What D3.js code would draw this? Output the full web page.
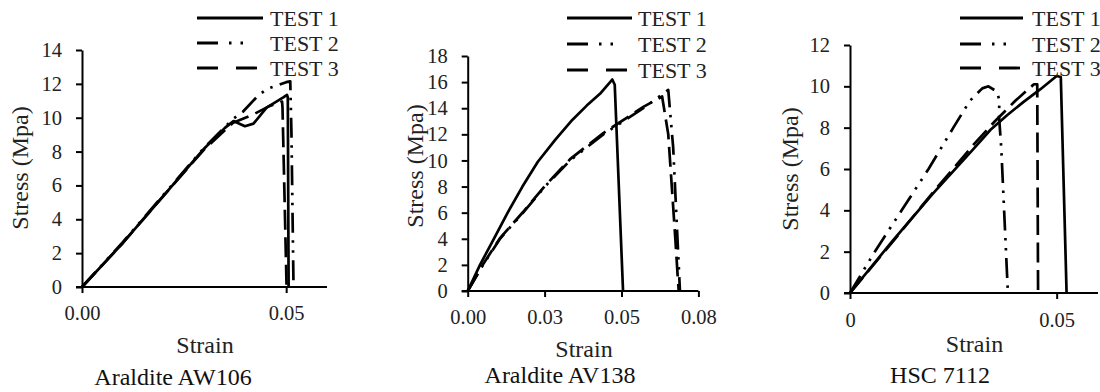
<!DOCTYPE html>
<html>
<head>
<meta charset="utf-8">
<script src="https://cdn.jsdelivr.net/npm/d3@7"></script>
</head>
<body style="margin:0; background:#fff">
<svg id="chart" width="1100" height="392"></svg>
<script>
// ---- data: [strain, stress MPa] ----
let seriesNames = ["TEST 1", "TEST 2", "TEST 3"];

let aw106Test1 = [[0, 0], [0.01, 2.6], [0.02, 5.4], [0.03, 8.2], [0.035, 9.4], [0.0371, 9.8], [0.0399, 9.5],
    [0.042, 9.65], [0.0452, 10.6], [0.0493, 11.2], [0.0502, 11.35], [0.0504, 11.2], [0.0506, 0]];
let aw106Test2 = [[0, 0], [0.01, 2.65], [0.02, 5.45], [0.03, 8.25], [0.0371, 9.95], [0.0394, 10.35], [0.0431, 11.3],
    [0.0453, 11.7], [0.05, 12.1], [0.051, 12.15], [0.0513, 9], [0.0518, 0]];
let aw106Test3 = [[0, 0], [0.01, 2.6], [0.02, 5.4], [0.03, 8.15], [0.037, 9.7], [0.042, 10.2], [0.046, 10.7],
    [0.049, 10.95], [0.0491, 10.6], [0.0501, 0]];

let av138Test1 = [[0, 0], [0.004, 2], [0.0085, 4], [0.013, 6], [0.0178, 8], [0.0228, 9.9], [0.0285, 11.6],
    [0.034, 13.1], [0.0387, 14.2], [0.043, 15.1], [0.0463, 16], [0.047, 16.2], [0.0478, 15.8], [0.0505, 0]];
let av138Test2 = [[0, 0], [0.005, 2], [0.0105, 4], [0.018, 6], [0.0251, 8], [0.0333, 10], [0.0441, 12],
    [0.0571, 14], [0.0652, 15.4], [0.0668, 11], [0.0682, 4], [0.0688, 1], [0.069, 0]];
let av138Test3 = [[0, 0], [0.005, 2.05], [0.0105, 4.05], [0.018, 6.05], [0.0251, 8.05], [0.0333, 10.1], [0.0441, 12.1],
    [0.0571, 14.1], [0.0632, 14.9], [0.0652, 12], [0.0675, 4], [0.0683, 1], [0.0686, 0]];

let hscTest1 = [[0, 0], [0.01, 2.45], [0.02, 4.8], [0.03, 7.0], [0.034, 7.9], [0.038, 8.6], [0.042, 9.25],
    [0.046, 9.85], [0.05, 10.5], [0.051, 10.45], [0.0524, 0]];
let hscTest2 = [[0, 0], [0.006, 2], [0.0125, 4], [0.019, 6], [0.025, 8], [0.029, 9.3], [0.032, 9.9], [0.0335, 10.0],
    [0.0355, 9.75], [0.0362, 9.3], [0.036, 8.7], [0.0366, 7], [0.0382, 0]];
let hscTest3 = [[0, 0], [0.01, 2.4], [0.02, 4.85], [0.03, 7.2], [0.035, 8.3], [0.04, 9.3], [0.0445, 10.1],
    [0.0453, 10.1], [0.0455, 0]];

let aw106XTicks = [0, 0.05], aw106XLabels = ["0.00", "0.05"];
let av138XTicks = [0, 0.025, 0.05, 0.075], av138XLabels = ["0.00", "0.03", "0.05", "0.08"];
let hscXTicks = [0, 0.05], hscXLabels = ["0", "0.05"];

let dashes = ["none", "20,7.5,2.5,7.5,2.5,7.5", "20,7.5"];
let legendDashes = ["none", "21,11,2.5,9,2.5,30", "21,18"];

const FONT = "'Liberation Serif'";
let svg = d3.select("#chart");

function styleAxis(sel) {
    sel.attr("font-family", null).attr("font-size", null);
    sel.selectAll("path, line").style("stroke", "#000").style("stroke-width", 2);
    sel.selectAll("text").style("font-family", FONT).style("font-size", "20.5px").style("fill", "#222");
}

function addText(g, txt, size) {
    return g.append("text")
        .style("font-family", FONT)
        .style("font-size", size + "px")
        .style("fill", "#222")
        .text(txt);
}

function drawPanel(p) {
    let g = svg.append("g");
    let x = d3.scaleLinear().domain(p.xDomain).range([p.left, p.right]);
    let y = d3.scaleLinear().domain(p.yDomain).range([p.bottom, p.top]);

    // curves
    let line = d3.line().x(d => x(d[0])).y(d => y(d[1]));
    p.series.forEach(function(s, i) {
        g.append("path")
            .datum(s)
            .attr("d", line)
            .attr("fill", "none")
            .attr("stroke", "#000")
            .attr("stroke-width", 2.7)
            .attr("stroke-linejoin", "round")
            .attr("stroke-dasharray", dashes[i]);
    });

    // axes
    g.append("g")
        .attr("transform", "translate(" + p.left + ",0)")
        .call(d3.axisLeft(y).tickValues(d3.range(p.yDomain[0], p.yDomain[1] + 0.001, 2))
            .tickSize(6).tickPadding(14).tickSizeOuter(0).tickFormat(d3.format("d")))
        .call(styleAxis);

    let xAxis = g.append("g")
        .attr("transform", "translate(0," + p.bottom + ")")
        .call(d3.axisBottom(x).tickValues(p.xTicks).tickSize(6).tickSizeOuter(0)
            .tickFormat((d, i) => p.xLabels[i]))
        .call(styleAxis);
    xAxis.selectAll("text").attr("y", p.xLabelDy).attr("dy", "0.35em");
    xAxis.select(".domain").attr("d", "M" + (p.left - 6) + ",0H" + p.right);

    // titles
    addText(g, "Stress (Mpa)", 24)
        .attr("transform", "translate(" + p.yTitle[0] + "," + p.yTitle[1] + ") rotate(-90)")
        .attr("text-anchor", "middle")
        .attr("dy", "0.35em");
    addText(g, "Strain", 24)
        .attr("x", p.xTitle[0]).attr("y", p.xTitle[1])
        .attr("text-anchor", "middle");
    addText(g, p.name, 24)
        .attr("x", p.caption[0]).attr("y", p.caption[1])
        .attr("text-anchor", "middle")
        .style("fill", "#111");

    // legend
    seriesNames.forEach(function(n, i) {
        let ly = p.legendRows[i];
        g.append("line")
            .attr("x1", p.legendX[0]).attr("x2", p.legendX[1])
            .attr("y1", ly).attr("y2", ly)
            .attr("stroke", "#000")
            .attr("stroke-width", 2.8)
            .attr("stroke-dasharray", legendDashes[i]);
        addText(g, n, 22)
            .attr("x", p.legendX[2]).attr("y", ly)
            .attr("dy", "0.35em");
    });
}

drawPanel({
    name: "Araldite AW106", series: [aw106Test1, aw106Test2, aw106Test3],
    xDomain: [0, 0.06], yDomain: [0, 14], xTicks: aw106XTicks, xLabels: aw106XLabels,
    left: 82, right: 327, top: 50, bottom: 287, xLabelDy: 26,
    yTitle: [20, 168], xTitle: [205, 353], caption: [173, 385],
    legendX: [197, 263, 270], legendRows: [18, 43, 68]
});
drawPanel({
    name: "Araldite AV138", series: [av138Test1, av138Test2, av138Test3],
    xDomain: [0, 0.075], yDomain: [0, 18], xTicks: av138XTicks, xLabels: av138XLabels,
    left: 467.7, right: 698.4, top: 56, bottom: 291, xLabelDy: 26,
    yTitle: [415, 166], xTitle: [584, 357], caption: [560, 383],
    legendX: [567, 632, 638], legendRows: [18, 44, 70]
});
drawPanel({
    name: "HSC 7112", series: [hscTest1, hscTest2, hscTest3],
    xDomain: [0, 0.06], yDomain: [0, 12], xTicks: hscXTicks, xLabels: hscXLabels,
    left: 850, right: 1098, top: 45, bottom: 293, xLabelDy: 27,
    yTitle: [790, 169], xTitle: [974.5, 352], caption: [940, 383],
    legendX: [960, 1023, 1032], legendRows: [18, 44, 68]
});
</script>
</body>
</html>
